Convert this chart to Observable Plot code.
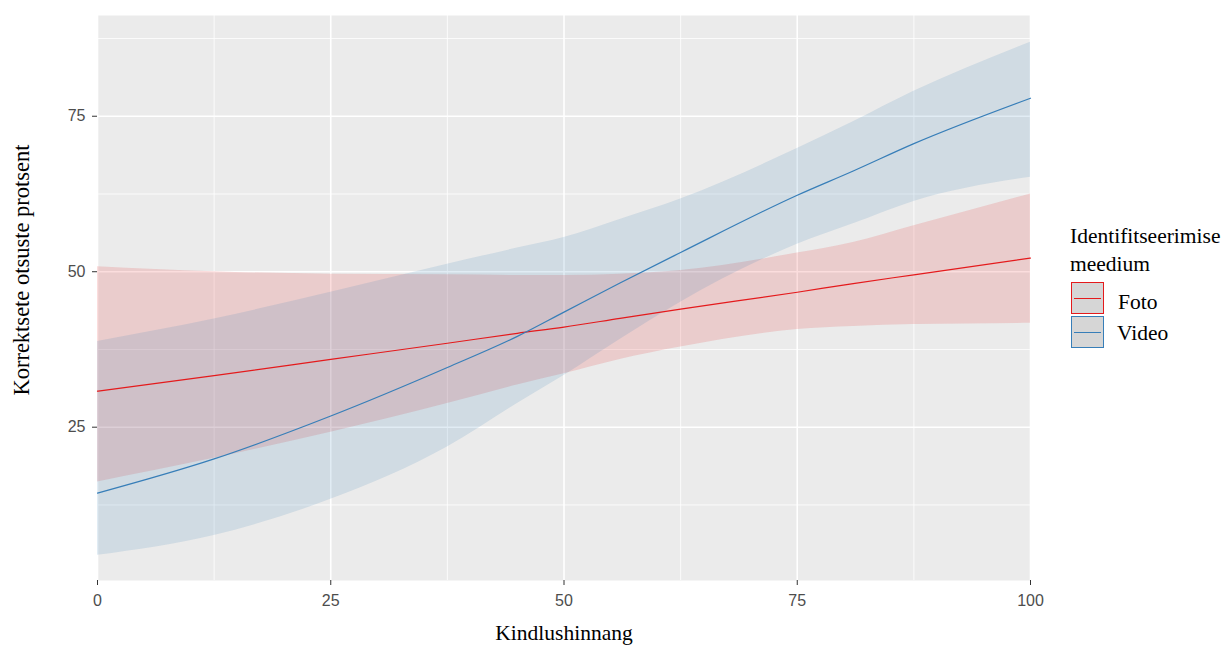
<!DOCTYPE html>
<html>
<head>
<meta charset="utf-8">
<script src="https://cdn.jsdelivr.net/npm/d3@7"></script>
<script src="https://cdn.jsdelivr.net/npm/@observablehq/plot@0.6"></script>
<style>
  html, body { margin: 0; padding: 0; background: #fff; }
  #wrap { position: relative; width: 1222px; height: 647px; overflow: hidden; }
  .serif { font-family: "Liberation Serif", "Times New Roman", serif; color: #000; position: absolute; white-space: nowrap; line-height: 1; }
  .key { position: absolute; width: 31px; height: 30px; background: #d6d6d6; box-sizing: content-box; }
  .key .ln { position: absolute; left: 2px; right: 2px; top: 14.5px; height: 1.3px; }
</style>
</head>
<body>
<div id="wrap">
  <div id="chart"></div>
  <div class="serif" id="ytitle" style="font-size:22.5px; left:22px; top:270px; transform: translate(-50%, -50%) rotate(-90deg);">Korrektsete otsuste protsent</div>
  <div class="serif" id="xtitle" style="font-size:21.5px; left:564px; top:623px; transform: translateX(-50%);">Kindlushinnang</div>
  <div class="serif" style="font-size:21.5px; left:1070px; top:226px;">Identifitseerimise</div>
  <div class="serif" style="font-size:21.5px; left:1070px; top:254px;">meedium</div>
  <div class="key" style="left:1071px; top:282px; border:1.3px solid #E41A1C;"><div class="ln" style="background:#E41A1C"></div></div>
  <div class="key" style="left:1071px; top:316px; border:1.3px solid #377EB8;"><div class="ln" style="background:#377EB8"></div></div>
  <div class="serif" style="font-size:21.5px; left:1118px; top:292px;">Foto</div>
  <div class="serif" style="font-size:21.5px; left:1117px; top:323px;">Video</div>
</div>
<script>
// Confidence values
const xs       = [0, 12.5, 25, 37.5, 45, 50, 56, 62.5, 75, 81, 87.5, 100];
const fotoFit  = [30.8, 33.3, 35.9, 38.5, 40.1, 41.1, 42.5, 44.0, 46.7, 48.1, 49.5, 52.2];
const fotoLo   = [16.2, 20.0, 24.2, 28.8, 31.8, 33.6, 35.9, 37.9, 40.7, 41.2, 41.5, 41.7];
const fotoHi   = [50.8, 50.0, 49.6, 49.5, 49.4, 49.4, 49.6, 50.2, 53.0, 54.7, 57.4, 62.5];
const videoFit = [14.4, 19.9, 26.8, 34.6, 39.6, 43.5, 48.2, 53.1, 62.3, 66.2, 70.6, 77.9];
const videoLo  = [4.4, 7.6, 13.4, 21.8, 28.8, 33.3, 39.1, 45.1, 54.4, 57.7, 61.3, 65.2];
const videoHi  = [38.8, 42.4, 46.7, 51.2, 53.8, 55.5, 58.4, 61.7, 69.8, 74.1, 79.0, 86.9];

const seriesNames = ["Foto", "Video"];
const seriesColors = ["#E41A1C", "#377EB8"];
const xTicks = [0, 25, 50, 75, 100];
const yTicks = [25, 50, 75];
const xMinor = [12.5, 37.5, 62.5, 87.5];
const yMinor = [12.5, 37.5, 62.5, 87.5];

const rows = [];
xs.forEach((x, i) => {
  rows.push({series: "Foto", x, fit: fotoFit[i], lo: fotoLo[i], hi: fotoHi[i]});
});
xs.forEach((x, i) => {
  rows.push({series: "Video", x, fit: videoFit[i], lo: videoLo[i], hi: videoHi[i]});
});

const chart = Plot.plot({
  width: 1222,
  height: 647,
  marginLeft: 97,
  marginRight: 192,
  marginTop: 15,
  marginBottom: 67,
  x: {domain: [0, 100]},
  y: {domain: [0.35, 91.2]},
  color: {domain: seriesNames, range: seriesColors},
  style: {fontFamily: "Liberation Sans, Arial, sans-serif", fontSize: "16px", color: "#4d4d4d", background: "#fff", overflow: "visible"},
  marks: [
    Plot.frame({fill: "#ebebeb", stroke: null}),
    Plot.ruleX(xMinor, {stroke: "#fff", strokeWidth: 0.8}),
    Plot.ruleY(yMinor, {stroke: "#fff", strokeWidth: 0.8}),
    Plot.ruleX(xTicks, {stroke: "#fff", strokeWidth: 1.6}),
    Plot.ruleY(yTicks, {stroke: "#fff", strokeWidth: 1.6}),
    Plot.areaY(rows, {x: "x", y1: "lo", y2: "hi", z: "series", fill: "series", fillOpacity: 0.15, curve: "monotone-x"}),
    Plot.lineY(rows, {x: "x", y: "fit", z: "series", stroke: "series", strokeWidth: 1.2, curve: "monotone-x"}),
    Plot.axisX({ticks: xTicks, tickSize: 5, tickPadding: 9, label: null, stroke: "#333"}),
    Plot.axisY({ticks: yTicks, tickSize: 5, tickPadding: 7, label: null, stroke: "#333"})
  ]
});
document.getElementById("chart").appendChild(chart);
</script>
</body>
</html>
